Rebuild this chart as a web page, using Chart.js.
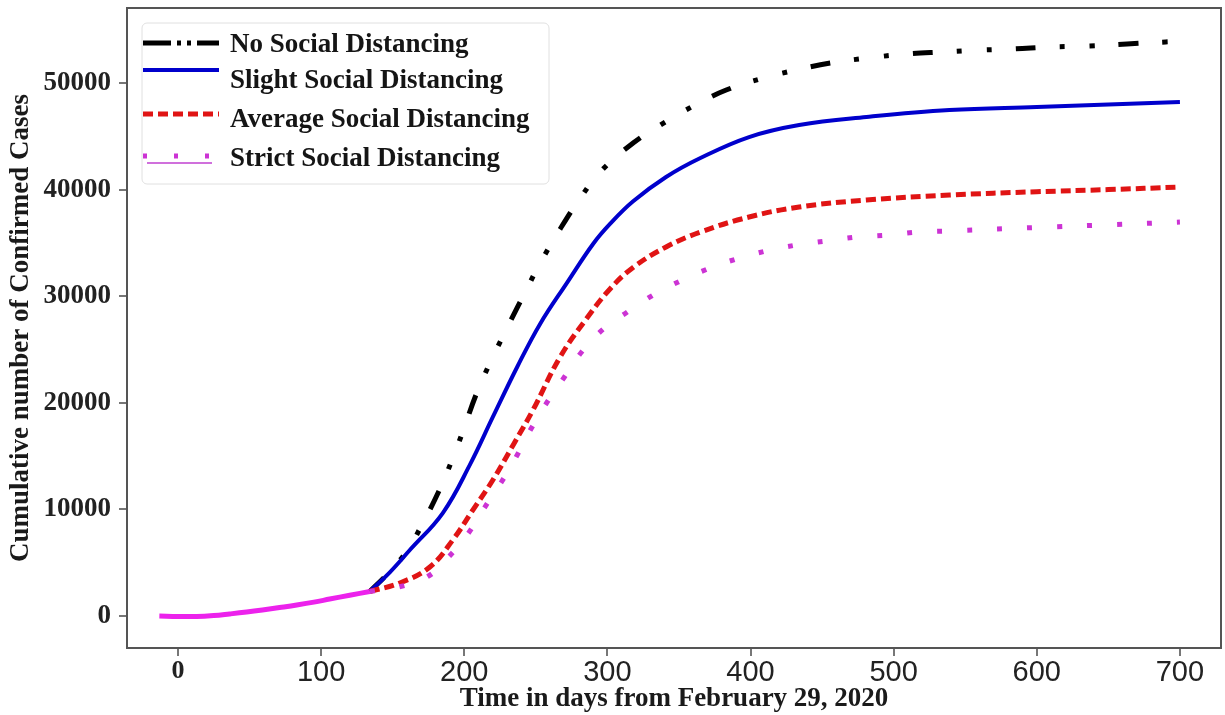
<!DOCTYPE html>
<html>
<head>
<meta charset="utf-8">
<title>Cumulative confirmed cases</title>
<script src="https://cdn.jsdelivr.net/npm/chart.js@4.4.0/dist/chart.umd.min.js"></script>
<style>
  html, body { margin: 0; padding: 0; background: #fff; }
  #wrap { width: 1225px; height: 715px; position: relative; }
</style>
</head>
<body>
<div id="wrap"><canvas id="casesChart"></canvas></div>
<script>
// tick labels
const xTicks = [0, 100, 200, 300, 400, 500, 600, 700];
const yTicks = [0, 10000, 20000, 30000, 40000, 50000];

// observed part, shared by all scenarios
const historyDays  = [-13, 0, 13, 25, 36, 48, 59, 71, 83, 95, 106, 120, 134];
const historyCases = [0, -40, -50, 40, 190, 370, 560, 790, 1030, 1300, 1590, 1950, 2300];

// scenarios
const noDays  = [134, 146, 160, 170, 182, 192, 199, 209, 220, 232, 243, 253, 267, 281, 296, 318, 337, 360, 383, 409, 435, 456, 482, 509, 534, 562, 583, 610, 637, 663, 690, 700];
const noCases = [2300, 3900, 6100, 8440, 11630, 14800, 17300, 21010, 24300, 27580, 30500, 33100, 36300, 39200, 41800, 44370, 46060, 47840, 49340, 50470, 51310, 51880, 52350, 52720, 52910, 53100, 53190, 53380, 53470, 53660, 53850, 53900];

const slightDays  = [134, 148, 162, 185, 204, 220, 237, 253, 272, 290, 302, 318, 341, 365, 399, 434, 481, 539, 600, 650, 700];
const slightCases = [2300, 4100, 6190, 9660, 14200, 18670, 23360, 27400, 31300, 34900, 36800, 38900, 41180, 42960, 44930, 46060, 46810, 47470, 47750, 47980, 48220];

const averageDays  = [134, 155, 176, 192, 206, 220, 234, 248, 267, 286, 302, 318, 341, 365, 399, 434, 481, 539, 600, 650, 700];
const averageCases = [2300, 3100, 4600, 7130, 9940, 12760, 16000, 19320, 24300, 28000, 30700, 32700, 34620, 36020, 37430, 38370, 39020, 39490, 39800, 40000, 40240];

const strictDays  = [134, 154, 174, 189, 203, 214, 226, 237, 247, 258, 270, 282, 297, 314, 332, 351, 370, 390, 411, 432, 453, 474, 496, 517, 538, 600, 650, 700];
const strictCases = [2300, 2720, 3660, 5530, 7790, 10130, 12570, 15100, 17640, 20080, 22420, 24770, 26900, 28520, 30110, 31430, 32550, 33490, 34240, 34800, 35180, 35550, 35740, 36020, 36120, 36450, 36700, 36950];

function toPoints(days, cases) {
    return days.map((d, i) => ({ x: d, y: cases[i] }));
}

const serifBold = size => ({ family: '"Liberation Serif", "Times New Roman", serif', weight: 'bold', size: size });

// box around the whole plot area, like matplotlib
const framePlugin = {
    id: 'frame',
    beforeDatasetsDraw(chart) {
        const { ctx, chartArea: a } = chart;
        ctx.save();
        ctx.strokeStyle = '#555';
        ctx.lineWidth = 2;
        ctx.strokeRect(a.left, a.top, a.right - a.left, a.bottom - a.top);
        ctx.restore();
    }
};

// legend drawn inside the plot, top left
const insideLegend = {
    id: 'insideLegend',
    afterDatasetsDraw(chart) {
        const ctx = chart.ctx;
        const box = { x: 142, y: 23, w: 407, h: 161 };
        const lineYs = [43, 70, 114, 156];
        const textYs = [45, 81, 120, 159];
        ctx.save();
        ctx.fillStyle = 'rgba(255,255,255,0.9)';
        ctx.strokeStyle = '#e0e0e0';
        ctx.lineWidth = 1;
        ctx.beginPath();
        ctx.roundRect(box.x, box.y, box.w, box.h, 5);
        ctx.fill();
        ctx.stroke();

        const items = chart.data.datasets.filter(ds => !ds.hideInLegend);
        items.forEach((ds, i) => {
            ctx.strokeStyle = ds.borderColor;
            ctx.lineWidth = ds.borderWidth;
            ctx.lineCap = 'butt';
            ctx.setLineDash(ds.legendDash || ds.borderDash || []);
            ctx.beginPath();
            ctx.moveTo(143, lineYs[i]);
            ctx.lineTo(219, lineYs[i]);
            ctx.stroke();
            if (ds.legendUnderline) {
                ctx.setLineDash([]);
                ctx.lineWidth = 1.5;
                ctx.strokeStyle = ds.legendUnderline;
                ctx.beginPath();
                ctx.moveTo(147, lineYs[i] + 7);
                ctx.lineTo(212, lineYs[i] + 7);
                ctx.stroke();
            }
            ctx.setLineDash([]);
            ctx.fillStyle = '#151515';
            ctx.font = 'bold 27px "Liberation Serif", "Times New Roman", serif';
            ctx.textBaseline = 'middle';
            ctx.textAlign = 'left';
            ctx.fillText(ds.label, 230, textYs[i]);
        });
        ctx.restore();
    }
};

function noEdgePadding(scale) {
    scale.paddingTop = 0;
    scale.paddingBottom = 0;
    scale.paddingLeft = 0;
    scale.paddingRight = 0;
}

new Chart(document.getElementById('casesChart'), {
    type: 'line',
    data: {
        datasets: [
            {
                label: 'History',
                hideInLegend: true,
                data: toPoints(historyDays, historyCases),
                borderColor: '#ec22ec',
                borderWidth: 5,
                order: 0
            },
            {
                label: 'No Social Distancing',
                data: toPoints(noDays, noCases),
                borderColor: '#000000',
                borderWidth: 5,
                borderDash: [20, 24, 5, 25, 5, 24],
                legendDash: [28, 6, 4, 6, 4, 6],
                order: 4
            },
            {
                label: 'Slight Social Distancing',
                data: toPoints(slightDays, slightCases),
                borderColor: '#0000cc',
                borderWidth: 4,
                order: 3
            },
            {
                label: 'Average Social Distancing',
                data: toPoints(averageDays, averageCases),
                borderColor: '#e01414',
                borderWidth: 5,
                borderDash: [10, 5],
                order: 2
            },
            {
                label: 'Strict Social Distancing',
                data: toPoints(strictDays, strictCases),
                borderColor: '#cc33d4',
                borderWidth: 5,
                borderDash: [5, 25],
                legendDash: [4, 27],
                legendUnderline: '#c040d0',
                order: 1
            }
        ]
    },
    options: {
        responsive: true,
        maintainAspectRatio: false,
        animation: false,
        layout: { padding: { left: 0, right: 4, top: 8, bottom: 0 } },
        elements: {
            point: { radius: 0 },
            line: { tension: 0.4, borderCapStyle: 'butt', fill: false }
        },
        plugins: {
            legend: { display: false },
            tooltip: { enabled: false }
        },
        scales: {
            x: {
                type: 'linear',
                min: -35.6,
                max: 728.7,
                afterBuildTicks: scale => { scale.ticks = xTicks.map(v => ({ value: v })); },
                afterFit: scale => { scale.height = 67; noEdgePadding(scale); },
                border: { display: false },
                grid: { drawOnChartArea: false, drawTicks: true, tickLength: 8, color: '#777', lineWidth: 2 },
                ticks: {
                    autoSkip: false,
                    maxRotation: 0,
                    padding: 0,
                    color: '#222',
                    callback: v => String(v),
                    font: ctx => (ctx.tick && ctx.tick.value === 0)
                        ? serifBold(26)
                        : { family: '"Liberation Sans", Arial, sans-serif', weight: 'normal', size: 29 }
                },
                title: {
                    display: true,
                    text: 'Time in days from February 29, 2020',
                    color: '#1a1a1a',
                    font: serifBold(27),
                    padding: { top: 0, bottom: 0 }
                }
            },
            y: {
                type: 'linear',
                min: -3000,
                max: 57036,
                afterBuildTicks: scale => { scale.ticks = yTicks.map(v => ({ value: v })); },
                afterFit: scale => { scale.width = 127; noEdgePadding(scale); },
                border: { display: false },
                grid: { drawOnChartArea: false, drawTicks: true, tickLength: 8, color: '#777', lineWidth: 2 },
                ticks: {
                    padding: 8,
                    color: '#222',
                    callback: v => String(v),
                    font: serifBold(27)
                },
                title: {
                    display: true,
                    text: 'Cumulative number of Confirmed Cases',
                    color: '#1a1a1a',
                    font: serifBold(27),
                    padding: { top: 5, bottom: 0 }
                }
            }
        }
    },
    plugins: [framePlugin, insideLegend]
});
</script>
</body>
</html>
